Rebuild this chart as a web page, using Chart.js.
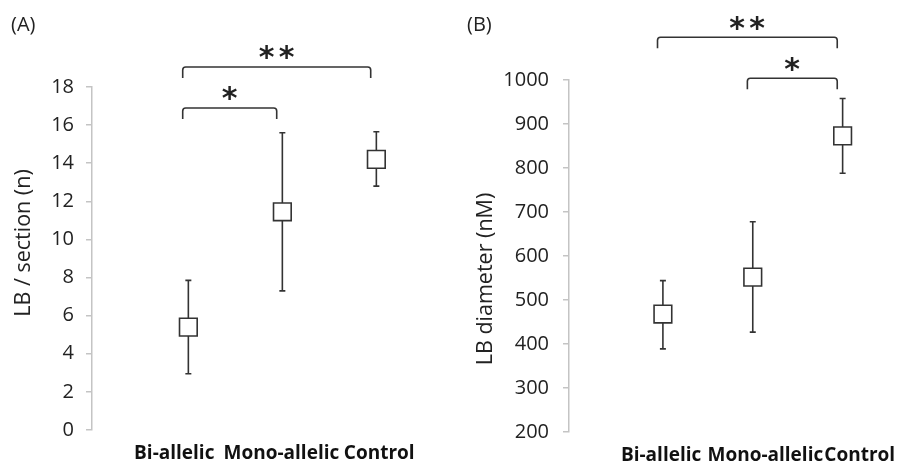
<!DOCTYPE html>
<html>
<head>
<meta charset="utf-8">
<script src="https://cdn.jsdelivr.net/npm/chart.js@4.4.1/dist/chart.umd.min.js"></script>
<style>
  html, body { margin: 0; padding: 0; background: #fff; }
  #wrap { position: relative; width: 908px; height: 466px; }
  .panel { position: absolute; top: 0; width: 454px; height: 466px; }
  .tag { position: absolute; top: 10px; font: 20px "Open Sans", sans-serif; color: #222; }
</style>
</head>
<body>
<div id="wrap">
  <div class="panel" style="left:0"><canvas id="chartA" width="454" height="466"></canvas></div>
  <div class="panel" style="left:454px"><canvas id="chartB" width="454" height="466"></canvas></div>
  <div class="tag" style="left:11px">(A)</div>
  <div class="tag" style="left:467px">(B)</div>
</div>
<script>
// groups on the x axis
const groups = ['Bi-allelic', 'Mono-allelic', 'Control'];

// (A) LB per section
const countMean = [5.4, 11.45, 14.2];
const countLow = [2.95, 7.3, 12.8];
const countHigh = [7.85, 15.6, 15.65];
// brackets: [from group, to group, height, label]
const countSig = [[0, 1, 16.9, '*'], [0, 2, 19.05, '**']];

// (B) LB diameter
const diamMean = [468, 552, 873];
const diamLow = [389, 427, 788];
const diamHigh = [544, 678, 958];
const diamSig = [[1, 2, 1004, '*'], [0, 2, 1097, '**']];

const ink = '#333';
const groupGap = 94; // px between group centres

function drawStars(ctx, label, cx, cy) {
  ctx.font = 'bold 30px "DejaVu Sans"';
  ctx.textAlign = 'left';
  ctx.textBaseline = 'alphabetic';
  const m = ctx.measureText('*');
  const w = m.actualBoundingBoxLeft + m.actualBoundingBoxRight;
  const h = m.actualBoundingBoxAscent + m.actualBoundingBoxDescent;
  const gap = 20;
  const n = label.length;
  for (let k = 0; k < n; k++) {
    const sx = cx + (k - (n - 1) / 2) * gap;
    ctx.fillText('*', sx - w / 2 + m.actualBoundingBoxLeft, cy - h / 2 + m.actualBoundingBoxAscent);
  }
}

// error bars under the squares, brackets and axis title on top
const markPlugin = {
  id: 'marks',
  beforeDatasetsDraw(chart, args, opts) {
    const { ctx, scales: { x, y } } = chart;
    ctx.save();
    ctx.strokeStyle = ink;
    ctx.lineWidth = 1.6;
    opts.low.forEach((lo, i) => {
      const px = x.getPixelForValue(i);
      const top = y.getPixelForValue(opts.high[i]);
      const bot = y.getPixelForValue(lo);
      ctx.beginPath();
      ctx.moveTo(px, top); ctx.lineTo(px, bot);
      ctx.moveTo(px - 3, top); ctx.lineTo(px + 3, top);
      ctx.moveTo(px - 3, bot); ctx.lineTo(px + 3, bot);
      ctx.stroke();
    });
    ctx.restore();
  },
  afterDatasetsDraw(chart, args, opts) {
    const { ctx, scales: { x, y } } = chart;
    const leg = 11;
    ctx.save();
    ctx.strokeStyle = ink;
    ctx.fillStyle = '#222';
    ctx.lineWidth = 1.6;
    opts.sig.forEach(([a, b, h, label]) => {
      const x1 = x.getPixelForValue(a - 0.06);
      const x2 = x.getPixelForValue(b - 0.06);
      const py = y.getPixelForValue(h);
      ctx.beginPath();
      ctx.moveTo(x1, py + leg);
      ctx.arcTo(x1, py, x1 + 4, py, 3);
      ctx.arcTo(x2, py, x2, py + 4, 3);
      ctx.lineTo(x2, py + leg);
      ctx.stroke();
      drawStars(ctx, label, (x1 + x2) / 2, py - 14);
    });
    // y axis title
    ctx.translate(opts.titleAt[0], opts.titleAt[1]);
    ctx.rotate(-Math.PI / 2);
    ctx.font = '21.5px "Open Sans"';
    ctx.textAlign = 'center';
    ctx.textBaseline = 'middle';
    ctx.fillText(opts.title, 0, 0);
    ctx.restore();
  }
};

function makeChart(id, cfg) {
  const means = cfg.mean.map((v, i) => ({ x: i, y: v }));
  const chart = new Chart(document.getElementById(id), {
    type: 'scatter',
    data: {
      datasets: [{
        data: means,
        pointStyle: 'rect',
        pointRadius: 12.5,
        pointHoverRadius: 12.5,
        backgroundColor: '#fff',
        borderColor: ink,
        borderWidth: 1.6
      }]
    },
    options: {
      responsive: false,
      animation: false,
      events: [],
      layout: { padding: { top: cfg.top, right: 0, left: 0, bottom: 0 } },
      plugins: {
        legend: { display: false },
        tooltip: { enabled: false },
        marks: { low: cfg.low, high: cfg.high, sig: cfg.sig, title: cfg.title, titleAt: cfg.titleAt }
      },
      scales: {
        x: {
          type: 'linear',
          min: cfg.xMin,
          max: 2.8,
          afterBuildTicks: s => { s.ticks = groups.map((g, i) => ({ value: i + cfg.labelShift[i] })); },
          afterFit: s => { s.height = cfg.xHeight; },
          grid: { display: false, drawTicks: false },
          border: { display: false },
          ticks: {
            callback: (v, i) => groups[i],
            padding: 12,
            maxRotation: 0,
            autoSkip: false,
            color: '#111',
            font: { family: '"Open Sans"', size: 19, weight: 'bold' }
          }
        },
        y: {
          min: cfg.min,
          max: cfg.max,
          afterFit: s => { s.width = cfg.yWidth; },
          ticks: {
            stepSize: cfg.step,
            padding: cfg.pad,
            color: '#222',
            callback: v => String(v),
            font: { family: '"Open Sans"', size: 20 }
          },
          grid: { drawOnChartArea: false, tickLength: 6, color: '#c4c4c4', lineWidth: 1.5 },
          border: { color: '#c4c4c4', width: 1.5 }
        }
      }
    },
    plugins: [markPlugin]
  });
  // keep one group step = groupGap px whatever width the plot area ended up with
  const area = chart.chartArea;
  chart.options.scales.x.max = cfg.xMin + (area.right - area.left) / groupGap;
  chart.update();
  return chart;
}

makeChart('chartA', {
  mean: countMean, low: countLow, high: countHigh, sig: countSig,
  min: 0, max: 18, step: 2, title: 'LB / section (n)', titleAt: [24, 243],
  labelShift: [-0.15, -0.01, 0.03], xMin: -1.025,
  top: 87, xHeight: 36, yWidth: 92, pad: 12
});

makeChart('chartB', {
  mean: diamMean, low: diamLow, high: diamHigh, sig: diamSig,
  min: 200, max: 1000, step: 100, title: 'LB diameter (nM)', titleAt: [32, 279],
  labelShift: [-0.02, 0.14, 0.19], xMin: -1.045,
  top: 80, xHeight: 34, yWidth: 115, pad: 14
});
</script>
</body>
</html>
